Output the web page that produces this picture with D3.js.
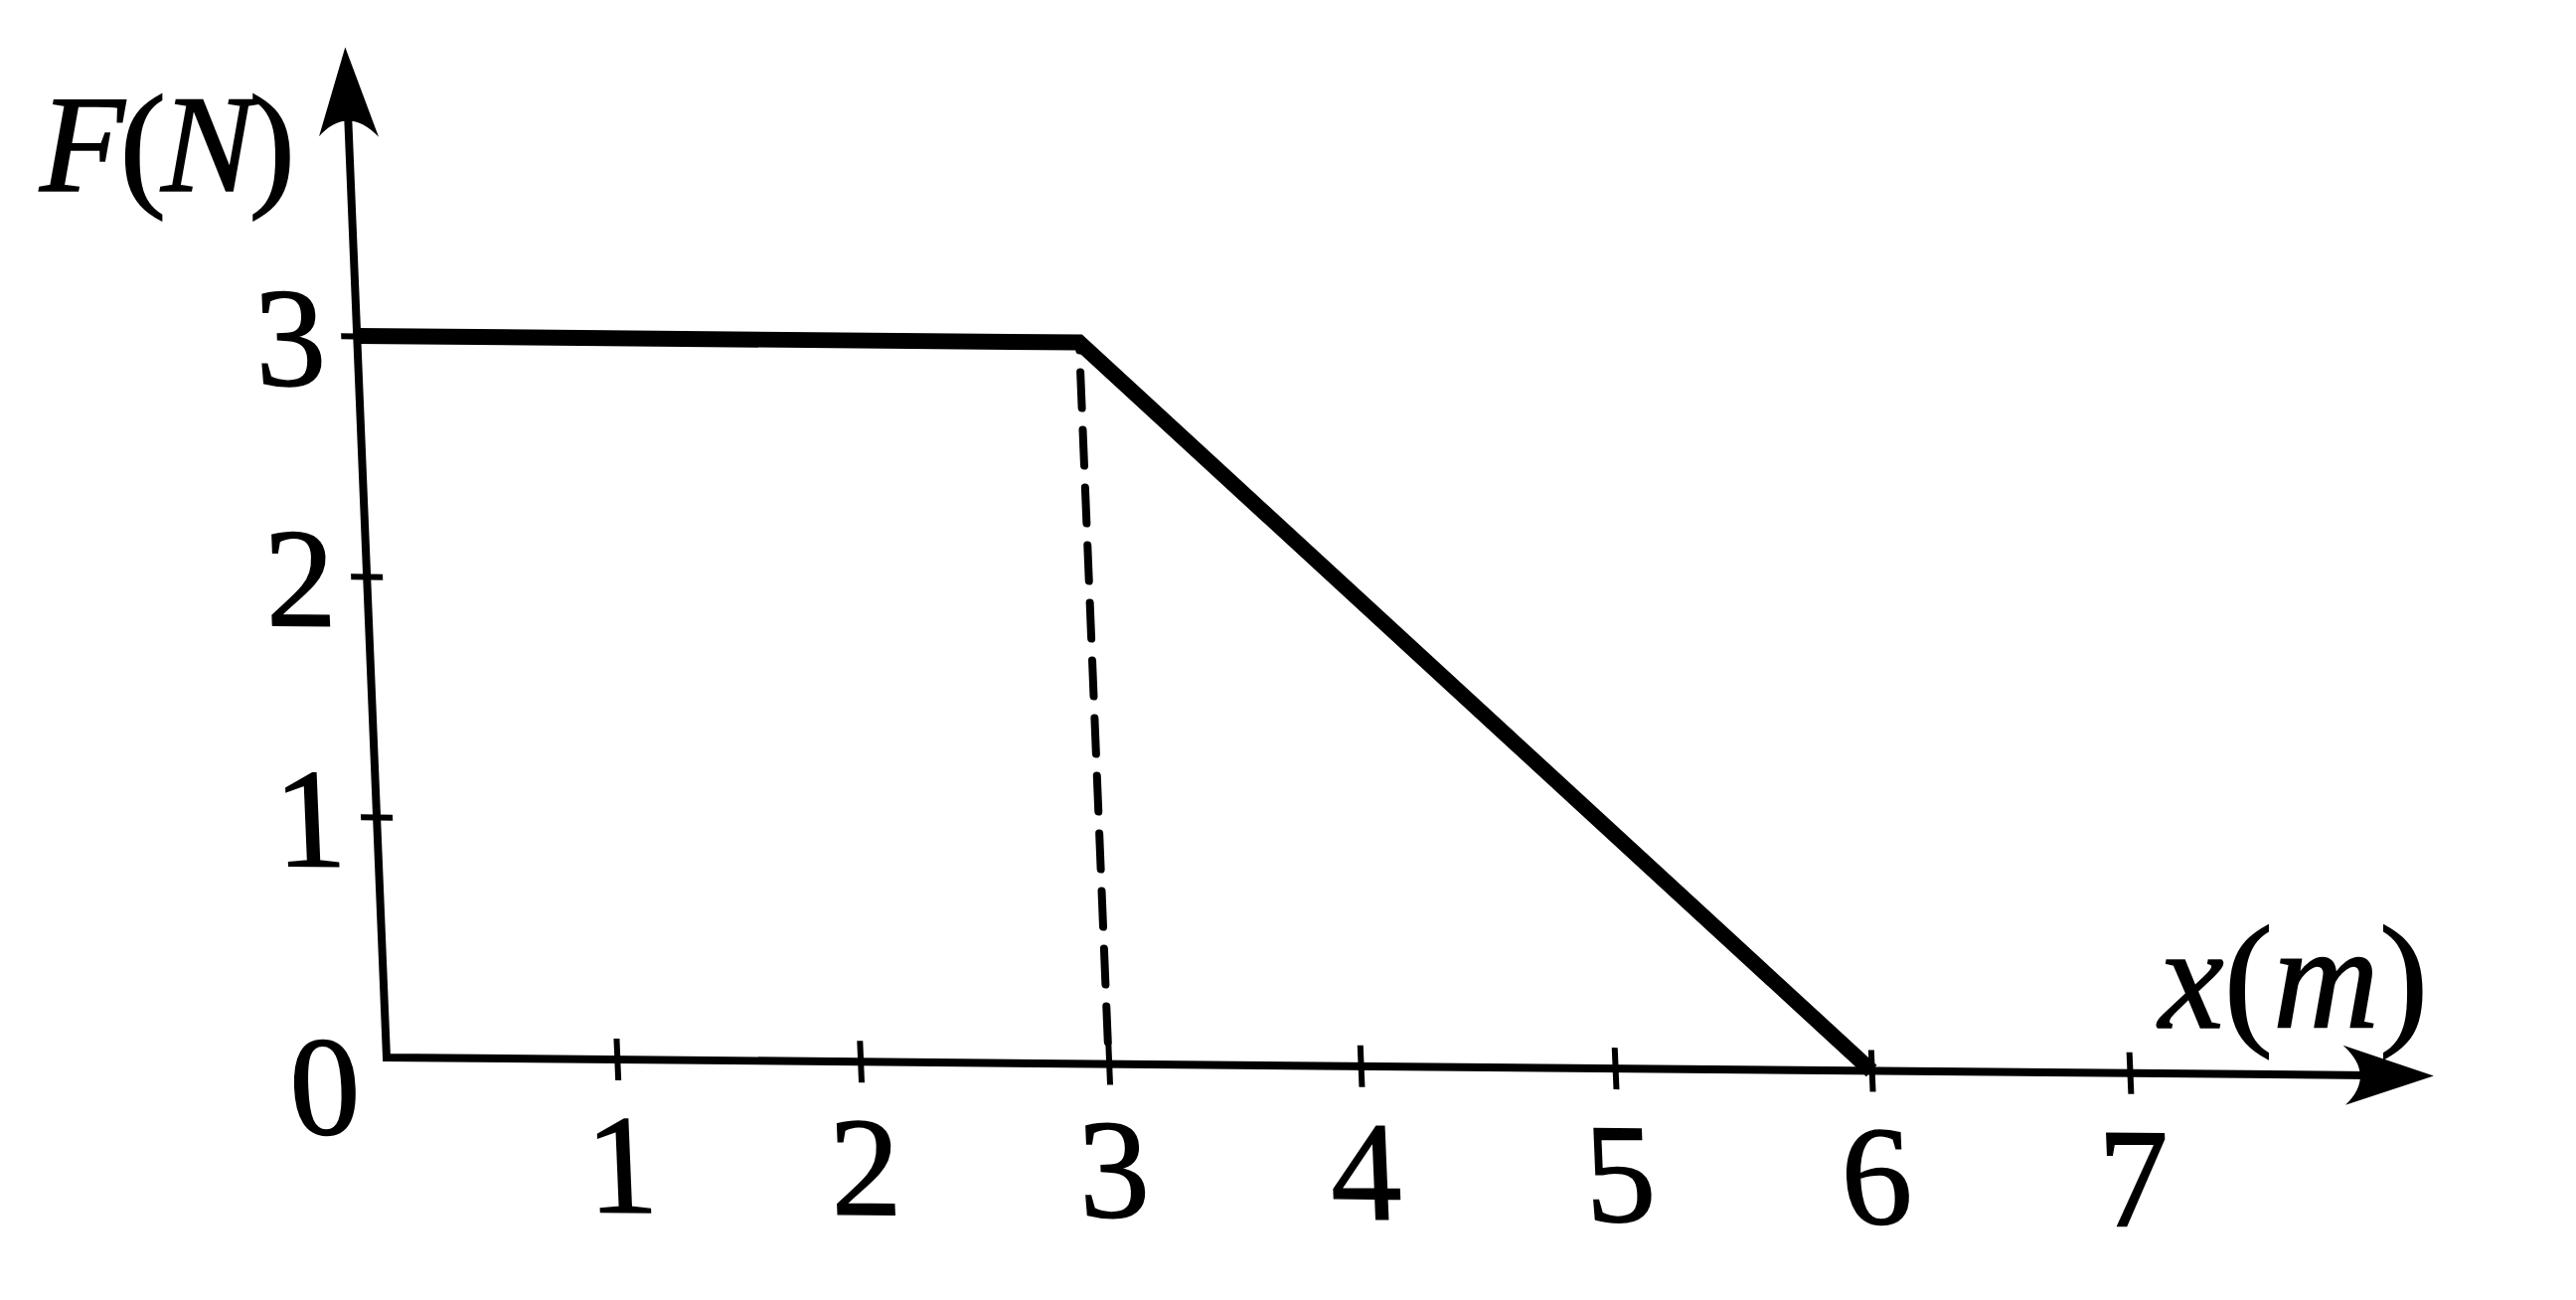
<!DOCTYPE html>
<head>
    <meta charset="utf-8">
    <style>
      body {
          margin: 0;
          background: #fff;
      }

      svg text {
          font-family: 'Liberation Serif', serif;
          fill: #000;
          stroke: #000;
          stroke-width: 1.5px;
      }

      .axis-line {
        fill: none;
        stroke: #000;
        stroke-width: 8px;
      }

      .tick line {
        stroke: #000;
        stroke-width: 6px;
      }

      .force {
        fill: none;
        stroke: #000;
        stroke-width: 16px;
        stroke-linejoin: miter;
      }

      .guide {
        fill: none;
        stroke: #000;
        stroke-width: 8px;
        stroke-dasharray: 36 22;
        stroke-dashoffset: 28;
        stroke-linecap: round;
      }
  </style>
</head>
<body>
<svg id="chart" width="2592" height="1308"></svg>
<script src="https://cdn.jsdelivr.net/npm/d3@7/dist/d3.min.js"></script>
<script>
  // tick labels on each axis
  const xTicks = [1, 2, 3, 4, 5, 6, 7];
  const yTicks = [1, 2, 3];

  // force curve F(x): flat at 3 N up to 3 m, then down to 0 at 6 m
  const forceX = [0, 3, 6];
  const forceF = [3, 3, 0];

  // dashed guide at x = 3
  const guideX = [3, 3];
  const guideF = [3, 0];

  // axis ends (arrow tips)
  const xEnd = 8.17;
  const yEnd = 4.2;

  // titles: [text, italic]
  const yTitle = [["F", true], ["(", false], ["N", true], [")", false]];
  const xTitle = [["x", true], ["(", false], ["m", true], [")", false]];

  const serif = "'Liberation Serif', serif";
  const svg = d3.select("#chart");

  // the printed x axis stretches a little to the right (scan perspective)
  var x = d3.scalePow()
      .exponent(1.04)
      .domain([0, 7])
      .range([0, 1754]);

  var y = d3.scaleLinear()
      .domain([0, 3])
      .range([0, -3 * 242]);

  // the scan is slightly sheared, so the plot group gets a small skew
  var g = svg.append("g")
      .attr("transform", "matrix(1,0.009,0.041,1,389,1064)");

  // x axis ticks + labels
  var gx = g.append("g").call(d3.axisBottom(x).tickValues(xTicks).tickFormat(d3.format("d")).tickSize(0));
  gx.select(".domain").remove();
  gx.attr("font-size", null).attr("font-family", null);
  gx.selectAll(".tick line").attr("y1", -21).attr("y2", 21);
  gx.selectAll(".tick text")
      .attr("y", 104)
      .attr("dy", "0.35em")
      .attr("font-size", 142)
      .style("font-family", serif);

  // y axis ticks + labels
  var gy = g.append("g").call(d3.axisLeft(y).tickValues(yTicks).tickFormat(d3.format("d")).tickSize(0));
  gy.select(".domain").remove();
  gy.attr("font-size", null).attr("font-family", null);
  gy.selectAll(".tick line").attr("x1", -16).attr("x2", 16);
  gy.selectAll(".tick text")
      .attr("x", -32)
      .attr("dy", "0.35em")
      .attr("font-size", 142)
      .style("font-family", serif);

  // origin label
  g.append("text")
      .attr("x", x(0) - 28)
      .attr("y", y(0) + 28)
      .attr("dy", "0.35em")
      .attr("text-anchor", "end")
      .attr("font-size", 142)
      .style("font-family", serif)
      .text("0");

  // axis lines
  var axisLine = d3.line();
  g.append("path")
      .attr("class", "axis-line")
      .attr("d", axisLine([[x(0), y(yEnd) + 40], [x(0), y(0)], [x(xEnd) - 40, y(0)]]))
      .style("stroke-linecap", "butt")
      .style("stroke-linejoin", "miter");

  // arrowheads
  var arrow = "M0,0 L-90,-30 Q-58,0 -90,30 Z";
  g.append("path")
      .attr("d", arrow)
      .attr("transform", "translate(" + x(xEnd) + "," + y(0) + ")");
  g.append("path")
      .attr("d", arrow)
      .attr("transform", "translate(" + x(0) + "," + y(yEnd) + ") rotate(-90)");

  // dashed guide
  var lineGen = d3.line()
      .x(function(d) { return x(d[0]); })
      .y(function(d) { return y(d[1]); });

  g.append("path")
      .datum(d3.zip(guideX, guideF))
      .attr("class", "guide")
      .attr("d", lineGen);

  // force curve
  g.append("path")
      .datum(d3.zip(forceX, forceF))
      .attr("class", "force")
      .attr("d", lineGen);

  // titles
  function title(parts, px, py, size) {
    var t = svg.append("text")
        .attr("x", px)
        .attr("y", py)
        .attr("font-size", size)
        .style("font-family", serif);
    t.selectAll("tspan")
        .data(parts)
      .enter().append("tspan")
        .attr("font-style", function(d) { return d[1] ? "italic" : "normal"; })
        .text(function(d) { return d[0]; });
    return t;
  }

  title(yTitle, 40, 192, 140).attr("letter-spacing", -5);
  title(xTitle, 2172, 1034, 148).attr("letter-spacing", 0);
</script>
</body>
